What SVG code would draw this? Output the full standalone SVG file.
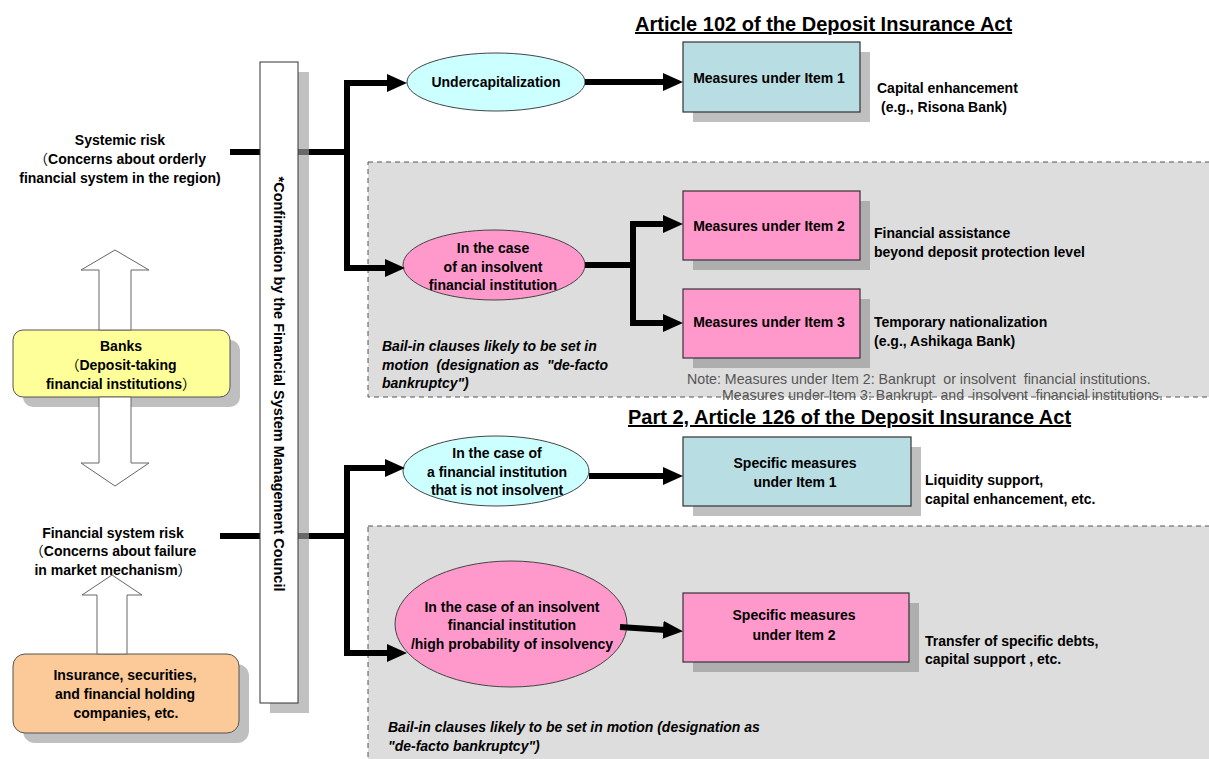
<svg xmlns="http://www.w3.org/2000/svg" width="1209" height="759" viewBox="0 0 1209 759">
<defs>
<style>
.t{font-family:"Liberation Sans","Noto Sans CJK JP",sans-serif;font-size:14px;font-weight:bold;fill:#000}
.fw{font-family:"Noto Sans CJK JP","Liberation Sans",sans-serif;font-weight:normal}
.c{text-anchor:middle}
.note{font-weight:normal;fill:#555;font-size:14.2px}
.bi{font-style:italic}
.title{font-size:20px;text-decoration:underline}
.conn{stroke:#000;stroke-width:6;fill:none;stroke-linejoin:miter}
.block{fill:#fff;stroke:#666;stroke-width:1}
.shadow{fill:#808080;opacity:.5}
.box{stroke:#333;stroke-width:1.2}
.blue{fill:#b8dde3}
.pink{fill:#ff99cc}
.cyan{fill:#ccffff}
.ell{stroke:#444;stroke-width:1}
.region{fill:#dddddd;stroke:#555;stroke-width:1;stroke-dasharray:5,4}
</style>
<marker id="ah" markerUnits="userSpaceOnUse" markerWidth="20" markerHeight="18" refX="10" refY="9" orient="auto" viewBox="0 0 20 18"><path d="M0,0 L20,9 L0,18 z" fill="#000"/></marker>
</defs>
<rect width="1209" height="759" fill="#fff"/>

<g id="regions">
<rect class="region" x="368" y="162" width="860" height="235"/>
<rect class="region" x="368" y="526" width="860" height="250"/>
</g>

<g id="title1"><text class="t title" x="635" y="31">Article 102 of the Deposit Insurance Act</text></g>
<g id="title2"><text class="t title" x="628" y="424">Part 2, Article 126 of the Deposit Insurance Act</text></g>

<g id="systemic-risk">
<text class="t c" x="120" y="145">Systemic risk</text>
<text class="t c" x="120" y="164"><tspan class="fw">（</tspan>Concerns about orderly</text>
<text class="t c" x="120" y="183">financial system in the region)</text>
</g>

<g id="banks">
<rect x="23" y="340" width="217" height="67" rx="10" class="shadow"/>
<rect x="13" y="330" width="217" height="67" rx="10" fill="#ffff99" stroke="#555" stroke-width="1"/>
<text class="t c" x="121" y="351">Banks</text>
<text class="t c" x="121" y="370"><tspan class="fw">（</tspan>Deposit-taking</text>
<text class="t c" x="121" y="389">financial institutions<tspan class="fw">）</tspan></text>
</g>

<g id="fs-risk">
<text class="t c" x="113" y="538">Financial system risk</text>
<text class="t c" x="113" y="556"><tspan class="fw">（</tspan>Concerns about failure</text>
<text class="t c" x="113" y="575">in market mechanism<tspan class="fw">）</tspan></text>
</g>

<g id="insurance">
<rect x="23" y="664" width="226" height="79" rx="12" class="shadow"/>
<rect x="13" y="654" width="226" height="79" rx="12" fill="#fcc999" stroke="#555" stroke-width="1"/>
<text class="t c" x="125" y="680">Insurance, securities,</text>
<text class="t c" x="125" y="699">and financial holding</text>
<text class="t c" x="126" y="718">companies, etc.</text>
</g>

<g id="undercap">
<ellipse class="cyan ell" cx="496" cy="82" rx="89" ry="29"/>
<text class="t c" x="496" y="87">Undercapitalization</text>
</g>

<g id="insolvent1">
<ellipse class="pink ell" cx="494" cy="265" rx="91" ry="35"/>
<text class="t c" x="493" y="253">In the case</text>
<text class="t c" x="493" y="272">of an insolvent</text>
<text class="t c" x="493" y="290">financial institution</text>
</g>

<g id="not-insolvent">
<ellipse class="cyan ell" cx="496" cy="471" rx="93" ry="35"/>
<text class="t c" x="497" y="458">In the case of</text>
<text class="t c" x="497" y="477">a financial institution</text>
<text class="t c" x="497" y="495">that is not insolvent</text>
</g>

<g id="insolvent2">
<ellipse class="pink ell" cx="511" cy="624" rx="116" ry="63"/>
<text class="t c" x="512" y="612">In the case of an insolvent</text>
<text class="t c" x="512" y="630">financial institution</text>
<text class="t c" x="512" y="649">/high probability of insolvency</text>
</g>

<g id="item1">
<rect class="shadow" x="693" y="52" width="177" height="70"/>
<rect class="box blue" x="683" y="42" width="177" height="70"/>
<text class="t c" x="769" y="83">Measures under Item 1</text>
</g>
<g id="item1-note">
<text class="t" x="877" y="93">Capital enhancement</text>
<text class="t" x="881" y="112">(e.g., Risona Bank)</text>
</g>

<g id="item2">
<rect class="shadow" x="693" y="201" width="177" height="69"/>
<rect class="box pink" x="683" y="191" width="177" height="69"/>
<text class="t c" x="769" y="231">Measures under Item 2</text>
</g>
<g id="item2-note">
<text class="t" x="874" y="238">Financial assistance</text>
<text class="t" x="874" y="257">beyond deposit protection level</text>
</g>

<g id="item3">
<rect class="shadow" x="693" y="299" width="177" height="69"/>
<rect class="box pink" x="683" y="289" width="177" height="69"/>
<text class="t c" x="769" y="327">Measures under Item 3</text>
</g>
<g id="item3-note">
<text class="t" x="874" y="327">Temporary nationalization</text>
<text class="t" x="874" y="346">(e.g., Ashikaga Bank)</text>
</g>

<g id="note">
<text class="t note" x="687" y="384" xml:space="preserve">Note: Measures under Item 2: Bankrupt  or insolvent  financial institutions.</text>
<text class="t note" x="722" y="400" xml:space="preserve">Measures under Item 3: Bankrupt  and  insolvent  financial institutions.</text>
</g>

<g id="bailin1">
<text class="t bi" x="382" y="351">Bail-in clauses likely to be set in</text>
<text class="t bi" x="382" y="370" xml:space="preserve">motion  (designation as  "de-facto</text>
<text class="t bi" x="382" y="388">bankruptcy")</text>
</g>

<g id="specific1">
<rect class="shadow" x="693" y="447" width="228" height="69"/>
<rect class="box blue" x="683" y="437" width="228" height="69"/>
<text class="t c" x="795" y="468">Specific measures</text>
<text class="t c" x="795" y="487">under Item 1</text>
</g>
<g id="specific1-note">
<text class="t" x="925" y="485">Liquidity support,</text>
<text class="t" x="925" y="504">capital enhancement, etc.</text>
</g>

<g id="specific2">
<rect class="shadow" x="693" y="603" width="226" height="69"/>
<rect class="box pink" x="683" y="593" width="226" height="69"/>
<text class="t c" x="794" y="620">Specific measures</text>
<text class="t c" x="794" y="640">under Item 2</text>
</g>
<g id="specific2-note">
<text class="t" x="925" y="646">Transfer of specific debts,</text>
<text class="t" x="925" y="664">capital support , etc.</text>
</g>

<g id="bailin2">
<text class="t bi" x="388" y="732">Bail-in clauses likely to be set in motion (designation as</text>
<text class="t bi" x="388" y="751">"de-facto bankruptcy")</text>
</g>

<g id="connectors">
<polygon class="block" points="115,250 149,270 131,270 131,330 99,330 99,270 81,270"/>
<polygon class="block" points="99,397 131,397 131,463 149,463 115,486 81,463 99,463"/>
<polygon class="block" points="112,575 142,595 127,595 127,654 97,654 97,595 82,595"/>
<path class="conn" d="M230,152 H347"/>
<path class="conn" d="M347,152 V83 H397" marker-end="url(#ah)"/>
<path class="conn" d="M347,152 V268 H395" marker-end="url(#ah)"/>
<path class="conn" d="M585,82 H673" marker-end="url(#ah)"/>
<path class="conn" d="M585,265 H633"/>
<path class="conn" d="M633,265 V224 H673" marker-end="url(#ah)"/>
<path class="conn" d="M633,265 V323 H673" marker-end="url(#ah)"/>
<path class="conn" d="M220,536 H347"/>
<path class="conn" d="M347,536 V468 H395" marker-end="url(#ah)"/>
<path class="conn" d="M347,536 V653 H397" marker-end="url(#ah)"/>
<path class="conn" d="M589,476 H673" marker-end="url(#ah)"/>
<path class="conn" d="M620,627 L673,630.5" marker-end="url(#ah)"/>
</g>

<g id="council">
<rect x="270" y="72" width="39" height="641" fill="#a0a0a0" opacity="0.65"/>
<rect x="260" y="62" width="38" height="641" fill="#fff" stroke="#333" stroke-width="1"/>
<text class="t c" transform="translate(279,384) rotate(90)" x="0" y="5" style="font-size:14.5px">*Confirmation by the Financial System Management Council</text>
</g>
</svg>
